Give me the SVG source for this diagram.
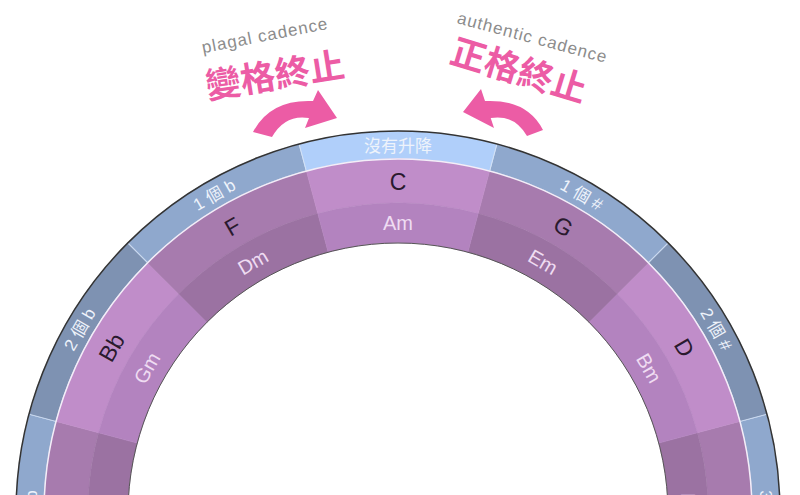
<svg xmlns="http://www.w3.org/2000/svg" xmlns:xlink="http://www.w3.org/1999/xlink" width="800" height="495" viewBox="0 0 800 495">
<style>
.bh{fill:#b0cffa;stroke:#d3e2f6;stroke-width:1}
.b1{fill:#8fa8cd;stroke:#cbdaf0;stroke-width:1}
.b2{fill:#7e92b2;stroke:#cbdaf0;stroke-width:1}
.majl{fill:#c08dc9;stroke:#c08dc9;stroke-width:.5}
.minl{fill:#b383bf;stroke:#b383bf;stroke-width:.5}
.majd{fill:#a77bae;stroke:#a77bae;stroke-width:.5}
.mind{fill:#9b72a2;stroke:#9b72a2;stroke-width:.5}
text{font-family:"Liberation Sans","Noto Sans CJK TC",sans-serif;text-anchor:middle}
.tk{font-size:17px;fill:#eef3fb}
.tM{font-size:23px;fill:#2a1a2e}
.tm{font-size:20px;fill:#efdcf2}
.cap{font-size:17px;fill:#8c8c8c;letter-spacing:1px}
.zh{font-family:"Noto Sans CJK TC","Noto Sans CJK SC",sans-serif;font-size:35px;font-weight:bold;fill:#ec5ca5}
.arrow{fill:#ec5ca5}
</style>
<defs>
<path id="secB" d="M299.13,144.02 A382,382 0 0 1 496.87,144.02 L489.62,171.06 A354,354 0 0 0 306.38,171.06 Z"/>
<path id="secM" d="M306.38,171.06 A354,354 0 0 1 489.62,171.06 L478.23,213.56 A310,310 0 0 0 317.77,213.56 Z"/>
<path id="secm" d="M317.77,213.56 A310,310 0 0 1 478.23,213.56 L467.88,252.2 A270,270 0 0 0 328.12,252.2 Z"/>
</defs>

<g id="key-Eb" transform="rotate(-90 398 513)">
<use href="#secB" class="b1"/><use href="#secM" class="majd"/><use href="#secm" class="mind"/>
<text x="398" y="151.5" class="tk">3 個 b</text>
</g>
<g id="key-Bb" transform="rotate(-60 398 513)">
<use href="#secB" class="b2"/><use href="#secM" class="majl"/><use href="#secm" class="minl"/>
<text x="398" y="151.5" class="tk">2 個 b</text>
<text x="398" y="190.3" class="tM">Bb</text>
<text x="398" y="230.2" class="tm">Gm</text>
</g>
<g id="key-F" transform="rotate(-30 398 513)">
<use href="#secB" class="b1"/><use href="#secM" class="majd"/><use href="#secm" class="mind"/>
<text x="398" y="151.5" class="tk">1 個 b</text>
<text x="398" y="190.3" class="tM">F</text>
<text x="398" y="230.2" class="tm">Dm</text>
</g>
<g id="key-A" transform="rotate(90 398 513)">
<use href="#secB" class="b1"/><use href="#secM" class="majd"/><use href="#secm" class="mind"/>
<text x="398" y="151.5" class="tk">3 個 #</text>
<text x="398" y="230.2" class="tm">F#m</text>
</g>
<g id="key-D" transform="rotate(60 398 513)">
<use href="#secB" class="b2"/><use href="#secM" class="majl"/><use href="#secm" class="minl"/>
<text x="398" y="151.5" class="tk">2 個 #</text>
<text x="398" y="190.3" class="tM">D</text>
<text x="398" y="230.2" class="tm">Bm</text>
</g>
<g id="key-G" transform="rotate(30 398 513)">
<use href="#secB" class="b1"/><use href="#secM" class="majd"/><use href="#secm" class="mind"/>
<text x="398" y="151.5" class="tk">1 個 #</text>
<text x="398" y="190.3" class="tM">G</text>
<text x="398" y="230.2" class="tm">Em</text>
</g>
<g id="key-C">
<use href="#secB" class="bh"/><use href="#secM" class="majl"/><use href="#secm" class="minl"/>
<text x="398" y="152" class="tk">沒有升降</text>
<text x="398" y="190.3" class="tM">C</text>
<text x="398" y="230.2" class="tm">Am</text>
</g>

<g id="ring-borders" fill="none">
<circle cx="398" cy="513" r="354" stroke="#f3eef8" stroke-width="1.5"/>
<circle cx="398" cy="513" r="382" stroke="#333" stroke-width="1.5"/>
<circle cx="398" cy="513" r="270" stroke="#555" stroke-width="1"/>
</g>

<g id="plagal-label">
<text class="cap" transform="translate(266 41) rotate(-11)">plagal cadence</text>
<text class="zh" transform="translate(275 75) rotate(-9)" y="13">變格終止</text>
</g>
<g id="authentic-label">
<text class="cap" transform="translate(531 43) rotate(15)">authentic cadence</text>
<text class="zh" transform="translate(519 70) rotate(17)" y="13">正格終止</text>
</g>

<g id="connectors">
<path class="arrow" d="M253,132 Q270,99 313,101 L318,90 L337,118 L305,128 L309,118 Q285,114 272,137 Z"/>
<path class="arrow" d="M543,130 Q527,99 485,101 L481,89 L463,112 L494,128 L490.7,118 Q514,114 527,136 Z"/>
</g>
</svg>
